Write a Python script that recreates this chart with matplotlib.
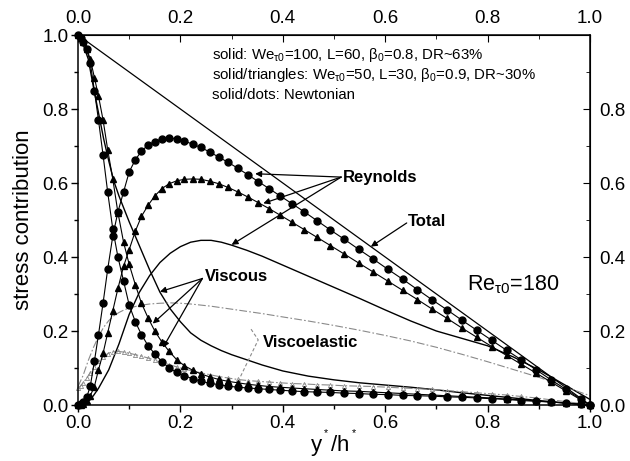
import matplotlib.pyplot as plt
from matplotlib.ticker import FixedLocator, MultipleLocator

plt.rcParams['font.family'] = ['Liberation Sans', 'DejaVu Sans']
plt.rcParams['mathtext.fontset'] = 'custom'
plt.rcParams['mathtext.rm'] = 'Liberation Sans'
plt.rcParams['mathtext.it'] = 'Liberation Sans'
plt.rcParams['mathtext.bf'] = 'Liberation Sans:bold'

# y*/h* of the simulation points (newtonian dots + We=50 triangles)
y_grid = [0.0, 0.005, 0.010, 0.017, 0.024, 0.032, 0.040, 0.049, 0.058, 0.068,
          0.078, 0.089, 0.100, 0.112, 0.124, 0.137, 0.150, 0.164, 0.178, 0.193,
          0.208, 0.224, 0.240, 0.257, 0.275, 0.293, 0.312, 0.332, 0.352, 0.373,
          0.395, 0.418, 0.442, 0.467, 0.493, 0.520, 0.548, 0.576, 0.605, 0.634,
          0.663, 0.692, 0.721, 0.750, 0.779, 0.808, 0.837, 0.866, 0.895, 0.924,
          0.953, 0.982, 1.0]

# newtonian (solid/dots)
reynolds_newt = [0.0, 0.002, 0.008, 0.021, 0.051, 0.118, 0.19, 0.276, 0.367, 0.457,
                 0.522, 0.576, 0.63, 0.663, 0.686, 0.703, 0.712, 0.719, 0.722, 0.719,
                 0.713, 0.705, 0.696, 0.684, 0.67, 0.656, 0.64, 0.622, 0.604, 0.585,
                 0.565, 0.544, 0.522, 0.498, 0.473, 0.448, 0.421, 0.395, 0.367, 0.34,
                 0.312, 0.284, 0.257, 0.229, 0.202, 0.175, 0.148, 0.122, 0.095, 0.068,
                 0.042, 0.016, 0.0]
viscous_newt = [1.0, 0.993, 0.982, 0.962, 0.925, 0.85, 0.77, 0.675, 0.575, 0.475,
                0.40, 0.335, 0.27, 0.225, 0.19, 0.16, 0.138, 0.117, 0.10, 0.088,
                0.079, 0.071, 0.064, 0.059, 0.055, 0.051, 0.048, 0.046, 0.044, 0.042,
                0.040, 0.038, 0.036, 0.035, 0.034, 0.032, 0.031, 0.029, 0.028, 0.026,
                0.025, 0.024, 0.022, 0.021, 0.019, 0.017, 0.015, 0.012, 0.010, 0.008,
                0.005, 0.002, 0.0]

# We=50, L=30, beta=0.9 (solid/triangles)
reynolds_we50 = [0.0, 0.001, 0.004, 0.012, 0.025, 0.05, 0.095, 0.14, 0.195, 0.255,
                 0.315, 0.375, 0.42, 0.47, 0.51, 0.54, 0.565, 0.585, 0.598, 0.606,
                 0.61, 0.611, 0.61, 0.605, 0.598, 0.588, 0.576, 0.562, 0.547, 0.531,
                 0.513, 0.494, 0.474, 0.453, 0.431, 0.408, 0.384, 0.36, 0.335, 0.31,
                 0.285, 0.259, 0.234, 0.208, 0.183, 0.158, 0.134, 0.11, 0.086, 0.062,
                 0.038, 0.014, 0.0]
viscous_we50 = [1.0, 0.993, 0.982, 0.962, 0.935, 0.885, 0.835, 0.77, 0.69, 0.61,
                0.52, 0.44, 0.38, 0.325, 0.275, 0.235, 0.2, 0.17, 0.145, 0.122,
                0.106, 0.094, 0.084, 0.076, 0.069, 0.064, 0.06, 0.056, 0.053, 0.05,
                0.048, 0.046, 0.044, 0.042, 0.04, 0.038, 0.037, 0.035, 0.033, 0.031,
                0.029, 0.027, 0.025, 0.023, 0.021, 0.019, 0.016, 0.014, 0.011, 0.008,
                0.005, 0.002, 0.0]
viscoel_we50 = [0.045, 0.052, 0.06, 0.073, 0.087, 0.103, 0.118, 0.13, 0.139, 0.144,
                0.145, 0.143, 0.14, 0.136, 0.132, 0.127, 0.121, 0.115, 0.109, 0.103,
                0.097, 0.092, 0.087, 0.082, 0.077, 0.073, 0.069, 0.066, 0.064, 0.062,
                0.06, 0.058, 0.057, 0.055, 0.054, 0.052, 0.051, 0.05, 0.048, 0.046,
                0.044, 0.042, 0.039, 0.036, 0.033, 0.03, 0.027, 0.023, 0.019, 0.014,
                0.009, 0.004, 0.002]

# We=100, L=60, beta=0.8 (solid, no markers)
y_we100 = [0.0, 0.01, 0.02, 0.03, 0.04, 0.05, 0.06, 0.07, 0.08, 0.09,
           0.1, 0.12, 0.14, 0.16, 0.18, 0.2, 0.22, 0.24, 0.26, 0.28,
           0.3, 0.33, 0.36, 0.4, 0.45, 0.5, 0.55, 0.6, 0.65, 0.7,
           0.75, 0.8, 0.85, 0.9, 0.95, 1.0]
reynolds_we100 = [0.0, 0.002, 0.01, 0.025, 0.045, 0.07, 0.095, 0.13, 0.165, 0.205,
                  0.245, 0.305, 0.35, 0.385, 0.41, 0.428, 0.44, 0.445, 0.445, 0.44,
                  0.432, 0.418, 0.402, 0.378, 0.348, 0.318, 0.288, 0.257, 0.227, 0.2,
                  0.18, 0.16, 0.13, 0.095, 0.055, 0.015]
viscous_we100 = [1.0, 0.975, 0.935, 0.86, 0.79, 0.72, 0.66, 0.605, 0.565, 0.53,
                 0.495, 0.43, 0.365, 0.305, 0.26, 0.225, 0.195, 0.175, 0.16, 0.147,
                 0.136, 0.122, 0.108, 0.092, 0.078, 0.068, 0.06, 0.054, 0.048, 0.041,
                 0.033, 0.026, 0.019, 0.012, 0.006, 0.0]
viscoel_we100 = [0.05, 0.08, 0.12, 0.155, 0.185, 0.21, 0.228, 0.241, 0.25, 0.257,
                 0.262, 0.269, 0.273, 0.275, 0.276, 0.275, 0.273, 0.27, 0.267, 0.263,
                 0.259, 0.253, 0.247, 0.238, 0.227, 0.215, 0.202, 0.188, 0.173, 0.156,
                 0.137, 0.117, 0.096, 0.075, 0.05, 0.025]

# total shear stress
y_total = [0.0, 1.0]
total = [1.0, 0.0]

major_ticks = [0.0, 0.2, 0.4, 0.6, 0.8, 1.0]
minor_ticks = [0.1, 0.3, 0.5, 0.7, 0.9]

info_lines = [r'solid: We$_{\tau0}$=100, L=60, β$_0$=0.8, DR~63%',
              r'solid/triangles: We$_{\tau0}$=50, L=30, β$_0$=0.9, DR~30%',
              'solid/dots: Newtonian']

GREY = '#8a8a8a'
DASHDOT = (0, (7, 2, 1.5, 2))


def arrow(ax, start, end, color='black', style='-|>', ls='-'):
    ax.annotate('', xy=end, xytext=start,
                arrowprops=dict(arrowstyle=style, color=color, lw=0.9,
                                ls=ls, mutation_scale=9,
                                shrinkA=0, shrinkB=0))


def draw_curves(ax):
    ax.plot(y_total, total, color='black', lw=0.9)
    # We=100
    ax.plot(y_we100, reynolds_we100, color='black', lw=1.0)
    ax.plot(y_we100, viscous_we100, color='black', lw=1.0)
    ax.plot(y_we100, viscoel_we100, color=GREY, lw=0.8, ls=DASHDOT)
    # We=50
    ax.plot(y_grid, viscoel_we50, color=GREY, lw=0.8, ls=DASHDOT,
            marker='^', ms=3, mfc='none', mec=GREY, mew=0.6, clip_on=False)
    ax.plot(y_grid, reynolds_we50, color='black', lw=0.8,
            marker='^', ms=5, clip_on=False)
    ax.plot(y_grid, viscous_we50, color='black', lw=0.8,
            marker='^', ms=5, clip_on=False)
    # newtonian
    ax.plot(y_grid, reynolds_newt, color='black', lw=0.8,
            marker='o', ms=5, clip_on=False)
    ax.plot(y_grid, viscous_newt, color='black', lw=0.8,
            marker='o', ms=5, clip_on=False)


def draw_labels(ax):
    for i, line in enumerate(info_lines):
        ax.text(0.262, 0.946 - 0.054 * i, line, fontsize=10.8, va='center')

    ax.text(0.518, 0.616, 'Reynolds', fontsize=12, fontweight='bold',
            va='center')
    arrow(ax, (0.514, 0.616), (0.346, 0.625))
    arrow(ax, (0.514, 0.616), (0.362, 0.545))
    arrow(ax, (0.514, 0.616), (0.300, 0.433))

    ax.text(0.645, 0.497, 'Total', fontsize=12, fontweight='bold',
            va='center')
    arrow(ax, (0.642, 0.492), (0.572, 0.428))

    ax.text(0.248, 0.346, 'Viscous', fontsize=12, fontweight='bold',
            va='center')
    arrow(ax, (0.243, 0.342), (0.160, 0.306))
    arrow(ax, (0.243, 0.342), (0.146, 0.22))
    arrow(ax, (0.243, 0.342), (0.166, 0.155))

    ax.text(0.362, 0.168, 'Viscoelastic', fontsize=12, fontweight='bold',
            va='center')
    ax.plot([0.338, 0.352, 0.316], [0.205, 0.176, 0.073], color=GREY,
            lw=0.8, ls=(0, (3, 2)))

    ax.text(0.76, 0.324, r'Re$_{\tau0}$=180', fontsize=15.5, va='center')


def set_ticks(axis, major, minor):
    axis.set_major_locator(FixedLocator(major))
    axis.set_minor_locator(FixedLocator(minor))
    axis.set_major_formatter('{x:.1f}')


def style_axes(ax):
    ax.set_xlim(0, 1)
    ax.set_ylim(0, 1)
    set_ticks(ax.xaxis, major_ticks, minor_ticks)
    set_ticks(ax.yaxis, major_ticks, minor_ticks)
    ax.tick_params(which='both', direction='out', labelsize=13.5, pad=2,
                   width=1)
    ax.tick_params(which='major', length=5)
    ax.tick_params(which='minor', length=3)
    for sp in ax.spines.values():
        sp.set_linewidth(1.1)

    top = ax.secondary_xaxis('top')
    set_ticks(top.xaxis, major_ticks, minor_ticks)
    top.tick_params(which='both', direction='in', labelsize=13.5, pad=6)
    top.tick_params(which='major', length=5)
    top.tick_params(which='minor', length=3)

    right = ax.secondary_yaxis('right')
    set_ticks(right.yaxis, major_ticks[:-1], minor_ticks)
    right.tick_params(which='both', direction='in', labelsize=13.5, pad=7)
    right.tick_params(which='major', length=5)
    right.tick_params(which='minor', length=3)

    ax.set_ylabel('stress contribution', fontsize=16, labelpad=6)
    ax.set_xlabel(r'y$^{^*}$/h$^{^*}$', fontsize=16, labelpad=-3)


def main():
    fig = plt.figure(figsize=(6.3, 4.61), dpi=100)
    ax = fig.add_axes([78 / 630, 1 - 405 / 461, 512 / 630, 370 / 461])
    draw_curves(ax)
    draw_labels(ax)
    style_axes(ax)
    fig.savefig('out.png', dpi=100)


if __name__ == '__main__':
    main()
